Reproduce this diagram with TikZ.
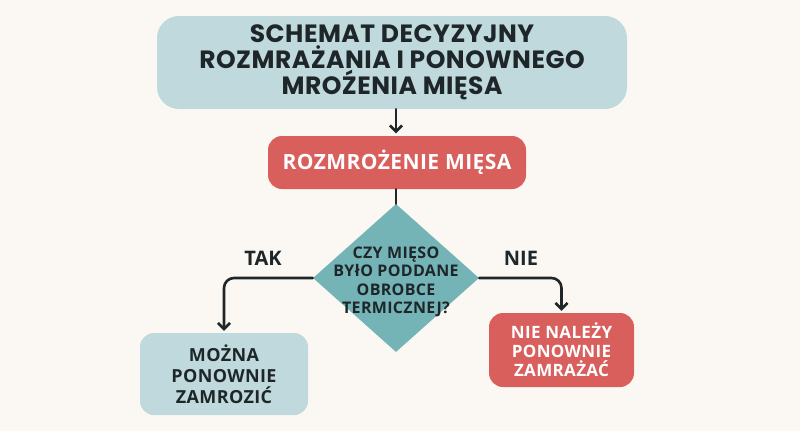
\documentclass[tikz,border=0pt]{standalone}
\usepackage{fontspec}
\setmainfont{Open Sans}
\newfontfamily\titlefont[LetterSpace=2]{Poppins}
\newfontfamily\spaced[LetterSpace=2]{Open Sans}
\usetikzlibrary{arrows.meta,shapes.geometric}
\definecolor{bg}{HTML}{FBF8F3}
\definecolor{lblue}{HTML}{BFD9DC}
\definecolor{lred}{HTML}{D95F5D}
\definecolor{teal}{HTML}{74B3B6}
\definecolor{ink}{HTML}{1E2629}
\tikzset{
  box/.style={rectangle, rounded corners=14pt, inner sep=0pt, align=center, font=\bfseries},
  conn/.style={line width=2.6pt, draw=ink, line cap=round, line join=round},
  arr/.style={conn, -{Straight Barb[length=6pt, width=12pt, line width=2.6pt]}},
  lbl/.style={font=\bfseries\fontsize{20}{22}\selectfont, text=ink}
}
\begin{document}
\begin{tikzpicture}[x=1pt, y=-1pt]
\useasboundingbox (0,0) rectangle (800,431);
\fill[bg] (0,0) rectangle (800,431);
\node[box, fill=lblue, rounded corners=22pt, minimum width=470pt, minimum height=93pt, text=ink,
  font=\titlefont\bfseries\fontsize{25}{26}\selectfont] (title) at (392,62.5)
  {SCHEMAT DECYZYJNY\\ROZMRAŻANIA I PONOWNEGO\\MROŹENIA MIĘSA};
\node[box, fill=lred, minimum width=258pt, minimum height=53pt, text=white,
  font=\spaced\bfseries\fontsize{21}{24}\selectfont] (red) at (397,162.5) {ROZMROŻENIE MIĘSA};
\node[diamond, fill=teal, inner sep=0pt, minimum width=166pt, minimum height=148pt] (d) at (396,278) {};
\node[align=center, text=ink, yshift=-4pt, font=\spaced\bfseries\fontsize{16}{18.5}\selectfont] (dtext) at (d.center)
  {CZY MIĘSO\\BYłO PODDANE\\OBROBCE\\TERMICZNEJ?};
\node[box, fill=lblue, minimum width=168pt, minimum height=82pt, text=ink,
  font=\spaced\bfseries\fontsize{18}{21}\selectfont] (yes) at (224,374) {MOŻNA\\PONOWNIE\\ZAMROZIĆ};
\node[box, fill=lred, minimum width=145pt, minimum height=74pt, text=white,
  font=\spaced\bfseries\fontsize{17}{19}\selectfont] (no) at (561.5,350) {NIE NALEŻY\\PONOWNIE\\ZAMRAŻAĆ};
\node[lbl] (tak) at (263,258) {TAK};
\node[lbl] (nie) at (521,258) {NIE};
\draw[arr, shorten >=2.5pt] (title.south -| d.north) -- (red.north -| d.north);
\draw[conn] (red.south -| d.north) -- (d.north);
\draw[arr, rounded corners=10pt, shorten >=2pt] (d.west) -| (yes.north);
\draw[arr, rounded corners=10pt, shorten >=2pt] (d.east) -| (no.north);
\end{tikzpicture}
\end{document}
